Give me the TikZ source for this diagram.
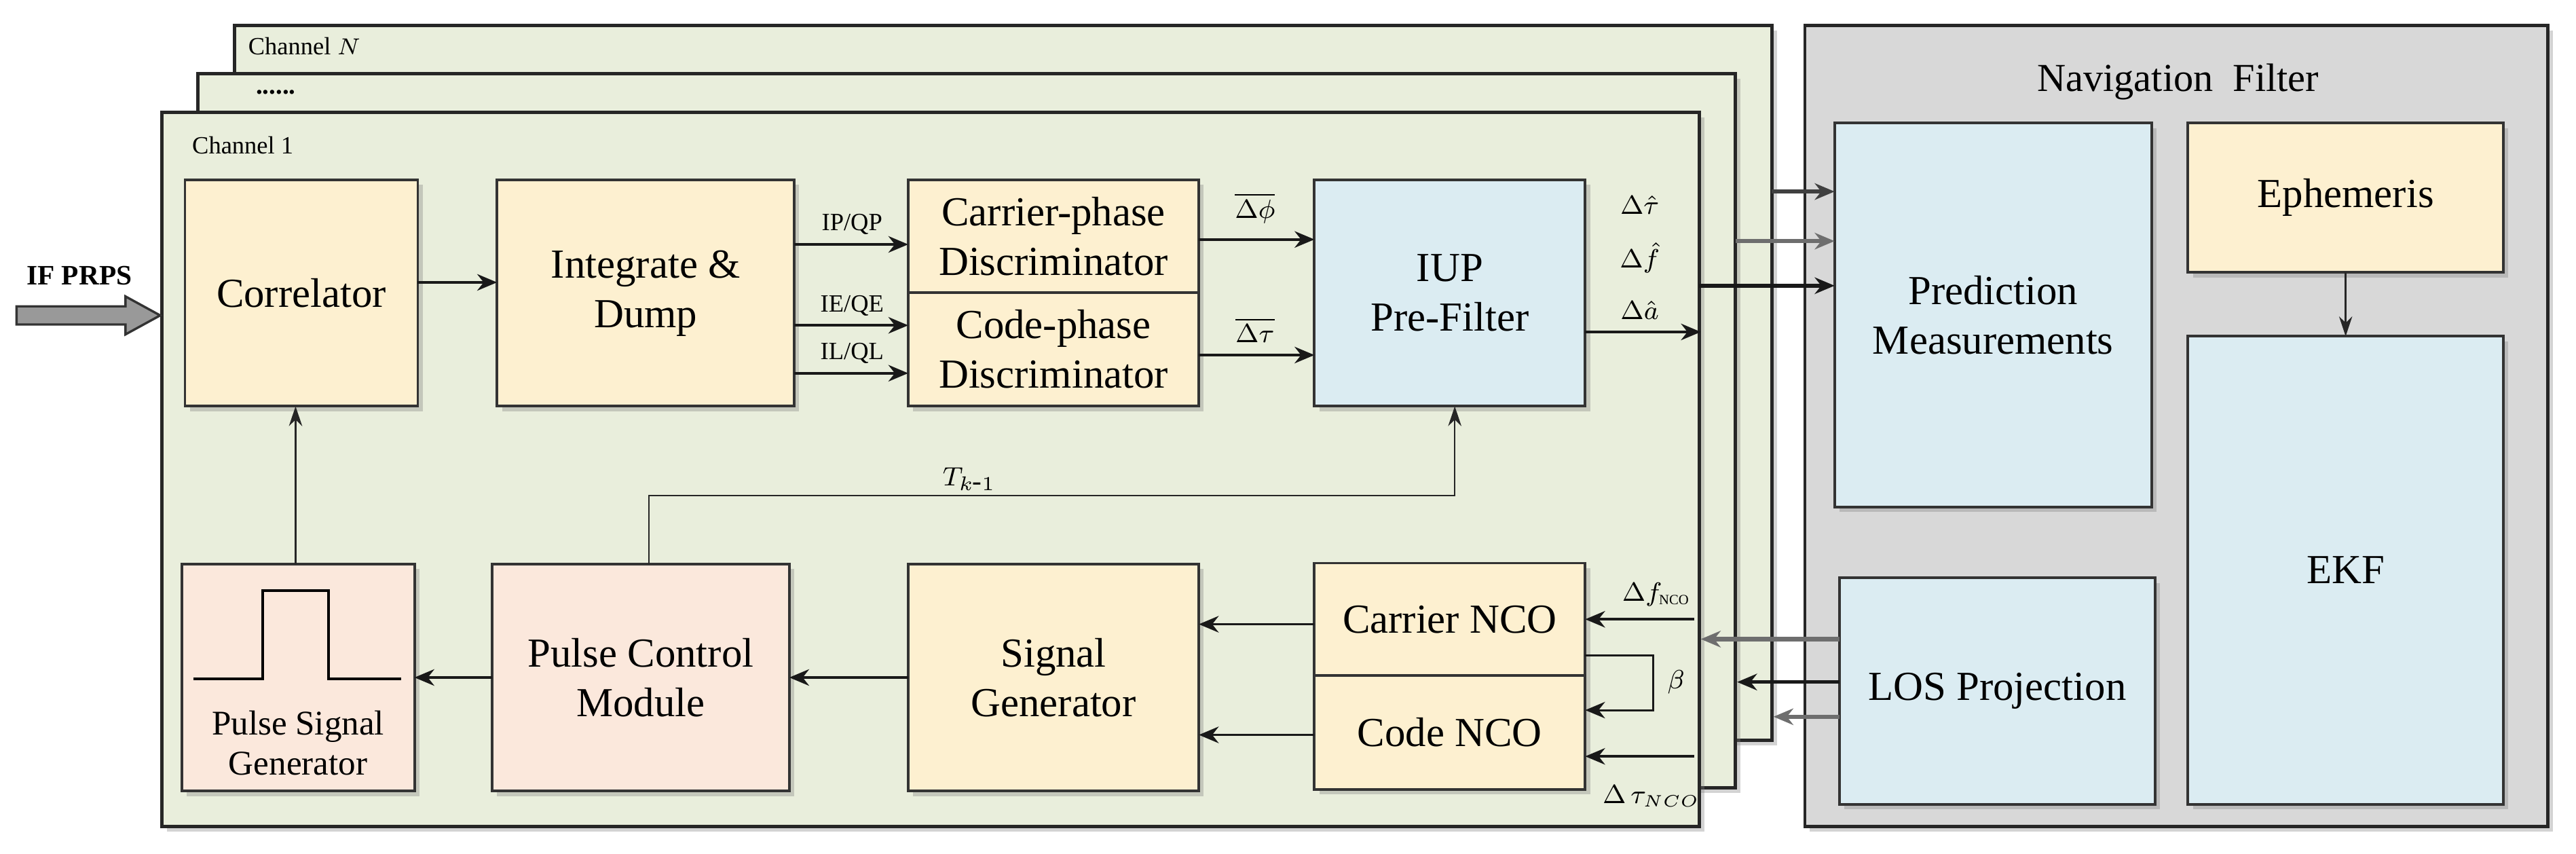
\documentclass[tikz,border=0pt]{standalone}
\usepackage{fontspec}
\setmainfont{Liberation Serif}
\usetikzlibrary{shadows,arrows.meta,calc}
\definecolor{chanbg}{HTML}{E9EEDC}
\definecolor{yel}{HTML}{FDF0D0}
\definecolor{blu}{HTML}{DBECF2}
\definecolor{pnk}{HTML}{FBE8DC}
\definecolor{navbg}{HTML}{D8D8D8}
\definecolor{gline}{HTML}{6E6E6E}
\begin{document}
\begin{tikzpicture}[x=0.5pt,y=-0.5pt,
  shd/.style={drop shadow={opacity=0.35,shadow xshift=1.5pt,shadow yshift=-1.5pt}},
  box/.style={draw=black!80,line width=0.8pt,inner sep=0pt,outer sep=0pt,align=center,
    font=\fontsize{12.5}{15}\selectfont,shd},
  chan/.style={draw=black!85,line width=1pt,fill=chanbg,inner sep=0pt,outer sep=0pt,
    anchor=north west,minimum width=465.5pt,minimum height=216.3pt,shd},
  arr/.style={draw=black!90,line width=0.8pt,-{Stealth[length=6pt,width=5pt]}},
  garr/.style={arr,draw=gline,line width=1.3pt},
  tarr/.style={draw=black!85,line width=0.5pt,-{Stealth[length=6pt,width=4pt]}},
  small/.style={font=\fontsize{7.5}{9}\selectfont,inner sep=1pt},
  mth/.style={font=\fontsize{8.5}{9}\selectfont,inner sep=0pt}]
\useasboundingbox (0,0) rectangle (1560,517);

% channel stacks
\node[chan] (chN) at (142,15.6) {};
\node[chan] (chD) at (120,44.6) {};
\node[chan] (ch1) at (98,68) {};
\node[small,anchor=west] (lN) at (148,28) {Channel $N$};
\node[font=\bfseries\fontsize{8}{9}\selectfont,anchor=west] (lD) at (148,56) {......};
\node[small,anchor=west] (l1) at (114,88) {Channel 1};

% navigation filter
\node[draw=black!85,line width=1pt,fill=navbg,inner sep=0pt,outer sep=0pt,anchor=north west,
  minimum width=225pt,minimum height=242.5pt,shd] (nav) at (1093,15.6) {};
\node[font=\fontsize{12}{14}\selectfont] (navt) at (1319,49.5) {Navigation\ \ Filter};

% blocks
\node[box,fill=yel,minimum width=70.5pt,minimum height=68.5pt] (corr) at (182.5,177.5) {Correlator};
\node[box,fill=yel,minimum width=90pt,minimum height=68.5pt] (integ) at (391,177.5) {Integrate \&\\Dump};
\node[box,fill=yel,minimum width=88pt,minimum height=34pt] (carr) at (638,143) {Carrier-phase\\Discriminator};
\node[box,fill=yel,minimum width=88pt,minimum height=34.5pt] (code) at (638,211.5) {Code-phase\\Discriminator};
\node[box,fill=blu,minimum width=82pt,minimum height=68.5pt] (iup) at (878,177.5) {IUP\\Pre-Filter};
\node[box,fill=blu,minimum width=96pt,minimum height=116.25pt] (pred) at (1207,190.75) {Prediction\\Measurements};
\node[box,fill=yel,minimum width=95.5pt,minimum height=45.25pt] (eph) at (1420.5,119.75) {Ephemeris};
\node[box,fill=blu,minimum width=95.5pt,minimum height=141.7pt] (ekf) at (1420.5,345.3) {EKF};
\node[box,fill=blu,minimum width=95.5pt,minimum height=68.5pt] (los) at (1209.5,418.5) {LOS Projection};
\node[box,fill=pnk,minimum width=70.5pt,minimum height=68.75pt] (psg) at (180.5,410.25) {};
\node[box,fill=pnk,minimum width=90pt,minimum height=68.75pt] (pcm) at (388,410.25) {Pulse Control\\Module};
\node[box,fill=yel,minimum width=88pt,minimum height=68.75pt] (sg) at (638,410.25) {Signal\\Generator};
\node[box,fill=yel,minimum width=82pt,minimum height=34pt] (cnco) at (878,375) {Carrier NCO};
\node[box,fill=yel,minimum width=82pt,minimum height=34.5pt] (dnco) at (878,443.5) {Code NCO};

% pulse signal generator content
\draw[line width=0.9pt] (117,411) -- (159,411) -- (159,357.6) -- (199,357.6) -- (199,411) -- (243,411);
\node[font=\fontsize{10.5}{12}\selectfont,align=center] (psgt) at (180.5,450) {Pulse Signal\\Generator};

% IF PRPS input
\node[font=\bfseries\fontsize{8.5}{10}\selectfont] (ifl) at (48,167) {IF PRPS};
\draw[draw=black!80,line width=0.7pt,fill=gray!80] (10,185.5) -- (76,185.5) -- (76,179.5) -- (97,191) -- (76,202.5) -- (76,196.5) -- (10,196.5) -- cycle;

% connectors
\draw[arr] (corr.east |- 0,171) -- (integ.west |- 0,171);
\draw[arr] (integ.east |- 0,148) -- (carr.west |- 0,148);
\draw[arr] (integ.east |- 0,197) -- (code.west |- 0,197);
\draw[arr] (integ.east |- 0,226) -- (code.west |- 0,226);
\node[small] (ipq) at (516,136) {IP/QP};
\node[small] (ieq) at (516,185) {IE/QE};
\node[small] (ilq) at (516,214) {IL/QL};

\draw[arr] (carr.east |- 0,145) -- (iup.west |- 0,145);
\draw[arr] (code.east |- 0,215) -- (iup.west |- 0,215);
\node[mth] (dphi) at (760,126) {$\overline{\Delta\phi}$};
\node[mth] (dtau) at (760,200) {$\overline{\Delta\tau}$};

\coordinate (iupout) at (1030,201);
\draw[arr] (iup.east |- iupout) -- (iupout);
\node[mth] (o1) at (993,124) {$\Delta\hat{\tau}$};
\node[mth] (o2) at (993,156) {$\Delta\hat{f}$};
\node[mth] (o3) at (993,188) {$\Delta\hat{a}$};

\coordinate (p1) at (1073,116);
\coordinate (p2) at (1051,146);
\coordinate (p3) at (1029,173);
\draw[arr,draw=black!75,line width=1.1pt] (p1) -- (pred.west |- p1);
\draw[garr] (p2) -- (pred.west |- p2);
\draw[arr,line width=1.1pt] (p3) -- (pred.west |- p3);

\draw[tarr] (eph) -- (ekf);
\draw[tarr] (psg.north -| 179,0) -- (corr.south -| 179,0);
\draw[tarr] (pcm.north -| 393,0) |- (881,300) -- (iup.south -| 881,0);
\node[font=\fontsize{8.5}{10}\selectfont] (tk) at (587,290) {$T_{k\mbox{-}1}$};

\draw[arr] (sg.west) -- (pcm.east);
\draw[arr] (pcm.west) -- (psg.east);
\draw[arr] (cnco.west |- 0,378) -- (sg.east |- 0,378);
\draw[arr] (dnco.west |- 0,445) -- (sg.east |- 0,445);

\coordinate (fin) at (1026,375);
\coordinate (tin) at (1026,458);
\draw[arr] (fin) -- (cnco.east |- fin);
\draw[arr] (tin) -- (dnco.east |- tin);
\draw[arr,line width=0.6pt] (cnco.east |- 0,397) -- (1001,397) -- (1001,430) -- (dnco.east |- 0,430);
\node[mth] (fl) at (1003,360) {$\Delta f_{\scriptscriptstyle\mathrm{NCO}}$};
\node[mth] (bl) at (1015,413) {$\beta$};
\node[mth] (tl) at (1000,482) {$\Delta\,\tau_{\scriptscriptstyle NCO}$};

\coordinate (l1c) at (1030,387);
\coordinate (l2c) at (1052,413);
\coordinate (l3c) at (1074,434);
\draw[garr] (los.west |- l1c) -- (l1c);
\draw[arr,line width=1.1pt] (los.west |- l2c) -- (l2c);
\draw[garr] (los.west |- l3c) -- (l3c);
\end{tikzpicture}
\end{document}
